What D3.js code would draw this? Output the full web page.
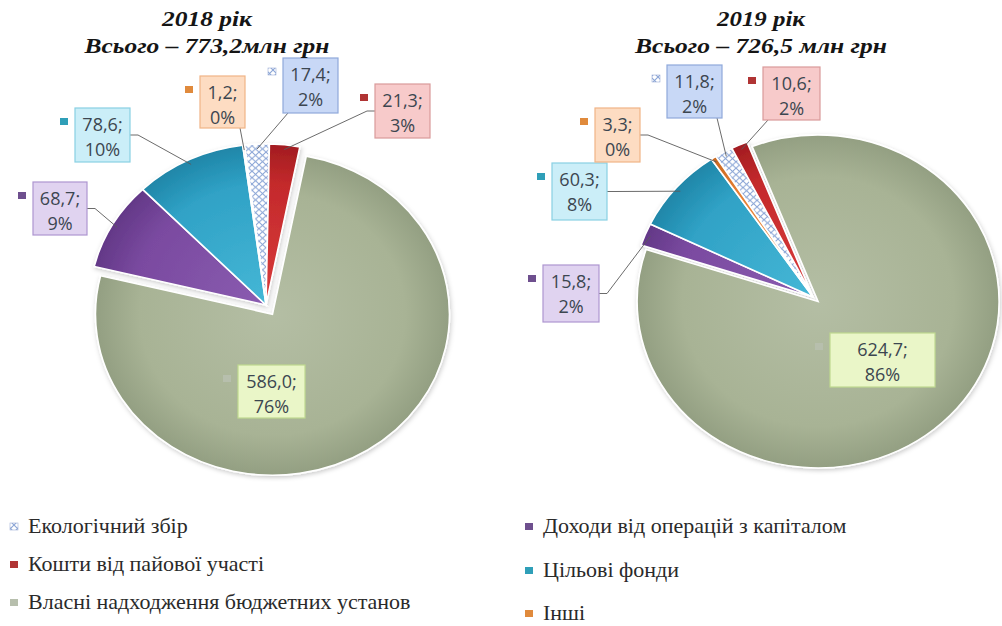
<!DOCTYPE html>
<html>
<head>
<meta charset="utf-8">
<script src="https://cdn.jsdelivr.net/npm/d3@7"></script>
<style>
  body { margin: 0; background: #fff; }
</style>
</head>
<body>
<div id="container"></div>
<script>
/* DATA */
const categories = [
  "Екологічний збір",
  "Кошти від пайової участі",
  "Власні надходження бюджетних установ",
  "Доходи від операцій з капіталом",
  "Цільові фонди",
  "Інші"
];
const values2018 = [17.4, 21.3, 586.0, 68.7, 78.6, 1.2];
const values2019 = [11.8, 10.6, 624.7, 15.8, 60.3, 3.3];
const percents2018 = ["2%", "3%", "76%", "9%", "10%", "0%"];
const percents2019 = ["2%", "2%", "86%", "2%", "8%", "0%"];
const titles2018 = ["2018 рік", "Всього – 773,2млн грн"];
const titles2019 = ["2019 рік", "Всього – 726,5 млн грн"];

/* CONSTANTS AND GLOBALS */
const width = 1002, height = 626;

// slice colours: [light centre, base, dark rim]
const sliceColors = [
  null, // hatched pattern
  ["#d83a3a", "#c42a2c", "#a21c20"],
  ["#b4bea4", "#a8b395", "#939f82"],
  ["#8a5cb0", "#7a4aa0", "#633887"],
  ["#45b7d6", "#30a2c6", "#1f86a8"],
  ["#f29a50", "#e67f34", "#c8671f"]
];
const boxColors = [
  { fill: "#c8d8f6", stroke: "#8fa9db" },
  { fill: "#f7caca", stroke: "#d99a9a" },
  { fill: "#eaf6c8", stroke: "#bfd98f" },
  { fill: "#e0d3f0", stroke: "#ad96d0" },
  { fill: "#cbeef8", stroke: "#89d0e3" },
  { fill: "#fddcc2", stroke: "#f0b486" }
];
const markerColors = ["#b8c4e0", "#b03434", "#b7bfad", "#6e4f8e", "#2f9fb8", "#e08a3c"];

// layout for each pie: centre, radius, vertical squash, start angle, exploded slice, label boxes [x, y, w, h]
const charts = [
  {
    id: "p18", values: values2018, percents: percents2018, titles: titles2018,
    cx: 266, cy: 305, r: 177, k: 0.91, start: -7, explode: 2, explodeBy: 12,
    titleX: 207, titleW: [90, 245],
    boxes: [[283, 58, 55, 55], [375, 84, 55, 54], [238, 365, 67, 53], [33, 182, 54, 53], [75, 108, 55, 54], [200, 76, 45, 52]]
  },
  {
    id: "p19", values: values2019, percents: percents2019, titles: titles2019,
    cx: 813, cy: 297, r: 181, k: 0.92, start: -32.5, explode: 2, explodeBy: 7,
    titleX: 761, titleW: [88, 252],
    boxes: [[667, 65, 55, 53], [763, 67, 57, 53], [830, 333, 105, 54], [543, 265, 56, 57], [552, 163, 55, 57], [595, 108, 45, 54]]
  }
];

const fmt = v => d3.format(".1f")(v).replace(".", ",");
const rad = deg => deg * Math.PI / 180;

// CREATE SVG ELEMENT
const svg = d3.select("#container")
  .append("svg")
  .attr("width", width)
  .attr("height", height);

const defs = svg.append("defs");

// hatch pattern for "Екологічний збір"
const hatch = defs.append("pattern")
  .attr("id", "hatch")
  .attr("patternUnits", "userSpaceOnUse")
  .attr("width", 7)
  .attr("height", 7);
hatch.append("rect").attr("width", 7).attr("height", 7).attr("fill", "#ffffff");
hatch.append("path")
  .attr("d", "M0,0 L7,7 M7,0 L0,7")
  .attr("stroke", "#8aa5d6")
  .attr("stroke-width", 1.1);

const shadow = defs.append("filter").attr("id", "shadow")
  .attr("x", "-20%").attr("y", "-20%").attr("width", "140%").attr("height", "140%");
shadow.append("feDropShadow")
  .attr("dx", 1).attr("dy", 2).attr("stdDeviation", 2.5)
  .attr("flood-color", "#000").attr("flood-opacity", 0.2);

charts.forEach(c => {
  // gradients in the pie's own coordinates
  sliceColors.forEach((col, i) => {
    if (!col) return;
    const g = defs.append("radialGradient")
      .attr("id", `${c.id}-g${i}`)
      .attr("gradientUnits", "userSpaceOnUse")
      .attr("cx", 0).attr("cy", 0).attr("r", c.r);
    g.append("stop").attr("offset", "0%").attr("stop-color", col[0]);
    g.append("stop").attr("offset", "75%").attr("stop-color", col[1]);
    g.append("stop").attr("offset", "100%").attr("stop-color", col[2]);
  });

  const pie = d3.pie()
    .sort(null)
    .value(d => d)
    .startAngle(rad(c.start))
    .endAngle(rad(c.start) + 2 * Math.PI);

  const arc = d3.arc()
    .innerRadius(0)
    .outerRadius(c.r);

  const arcs = pie(c.values);

  // DRAW SLICES
  const pieGroup = svg.append("g")
    .attr("transform", `translate(${c.cx}, ${c.cy}) scale(1, ${c.k})`)
    .attr("filter", "url(#shadow)");

  pieGroup.selectAll("path")
    .data(arcs)
    .join("path")
    .attr("transform", d => {
      if (d.index !== c.explode) return null;
      const mid = (d.startAngle + d.endAngle) / 2;
      return `translate(${Math.sin(mid) * c.explodeBy}, ${-Math.cos(mid) * c.explodeBy})`;
    })
    .attr("d", arc)
    .attr("fill", d => d.index === 0 ? "url(#hatch)" : `url(#${c.id}-g${d.index})`)
    .attr("stroke", "#ffffff")
    .attr("stroke-width", 1.6)
    .attr("vector-effect", "non-scaling-stroke");

  // LEADER LINES
  arcs.forEach(d => {
    if (d.index === c.explode) return;
    const [bx, by, bw, bh] = c.boxes[d.index];
    const mid = (d.startAngle + d.endAngle) / 2;
    const tx = c.cx + Math.sin(mid) * c.r * 0.97;
    const ty = c.cy - Math.cos(mid) * c.r * 0.97 * c.k;
    const dxOut = tx > bx + bw ? tx - bx - bw : (tx < bx ? bx - tx : 0);
    const dyOut = ty > by + bh ? ty - by - bh : 0;
    let pts;
    if (dyOut > dxOut) {
      const sx = Math.max(bx + 5, Math.min(bx + bw - 5, tx));
      pts = [[sx, by + bh], [tx, ty]];
    } else if (tx > bx + bw) {
      pts = [[bx + bw, by + bh / 2], [bx + bw + 8, by + bh / 2], [tx, ty]];
    } else {
      pts = [[bx, by + bh / 2], [bx - 8, by + bh / 2], [tx, ty]];
    }
    svg.append("path")
      .attr("d", d3.line()(pts))
      .attr("fill", "none")
      .attr("stroke", "#5a5a5a")
      .attr("stroke-width", 0.9);
  });

  // DATA LABELS
  arcs.forEach(d => {
    const [bx, by, bw, bh] = c.boxes[d.index];
    const lab = svg.append("g");
    lab.append("rect")
      .attr("x", bx).attr("y", by)
      .attr("width", bw).attr("height", bh)
      .attr("fill", boxColors[d.index].fill)
      .attr("stroke", boxColors[d.index].stroke)
      .attr("stroke-width", 1.2);
    // small legend key beside label
    lab.append("rect")
      .attr("x", bx - 15).attr("y", by + 10)
      .attr("width", 8).attr("height", 7)
      .attr("fill", d.index === 0 ? "url(#hatch)" : markerColors[d.index])
      .attr("stroke", d.index === 0 ? "#9fb0d8" : "none")
      .attr("stroke-width", 0.6);
    const lines = [fmt(c.values[d.index]) + ";", c.percents[d.index]];
    lines.forEach((t, j) => {
      lab.append("text")
        .attr("x", bx + bw / 2)
        .attr("y", by + 23 + j * 25)
        .attr("text-anchor", "middle")
        .attr("font-family", "'Open Sans', sans-serif")
        .attr("font-size", 18)
        .attr("fill", "#3c4650")
        .text(t);
    });
  });

  // TITLES
  c.titles.forEach((t, j) => {
    svg.append("text")
      .attr("x", c.titleX)
      .attr("y", 26 + j * 27)
      .attr("text-anchor", "middle")
      .attr("font-family", "'Liberation Serif', 'Times New Roman', serif")
      .attr("font-style", "italic")
      .attr("font-weight", "bold")
      .attr("font-size", 20)
      .attr("textLength", c.titleW[j])
      .attr("lengthAdjust", "spacingAndGlyphs")
      .attr("fill", "#151515")
      .text(t);
  });
});

// LEGEND
const legendCols = [{ x: 10, ys: [527, 565, 603] }, { x: 525, ys: [527, 571, 614] }];
categories.forEach((name, i) => {
  const col = legendCols[Math.floor(i / 3)];
  const y = col.ys[i % 3];
  svg.append("rect")
    .attr("x", col.x).attr("y", y - 4)
    .attr("width", 8).attr("height", 7)
    .attr("fill", i === 0 ? "url(#hatch)" : markerColors[i])
    .attr("stroke", i === 0 ? "#9fb0d8" : "none")
    .attr("stroke-width", 0.6);
  svg.append("text")
    .attr("x", col.x + 18)
    .attr("y", y + 6)
    .attr("font-family", "'Liberation Serif', 'Times New Roman', serif")
    .attr("font-size", 22)
    .attr("fill", "#2a2a2a")
    .text(name);
});
</script>
</body>
</html>
